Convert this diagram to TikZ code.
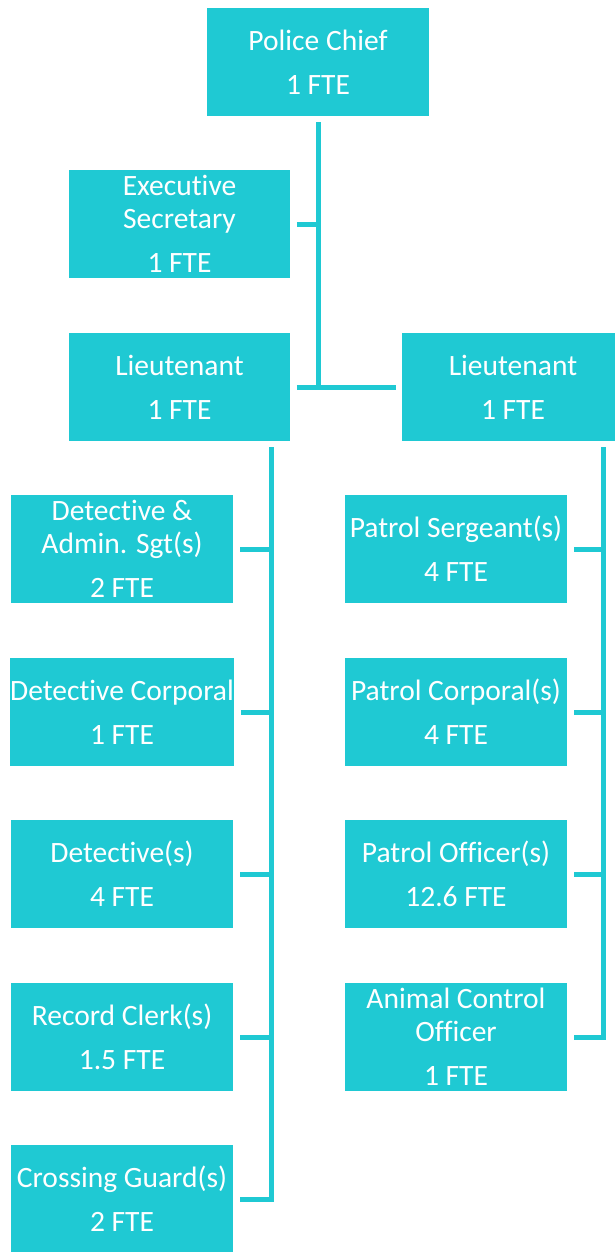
\documentclass[tikz,border=0pt]{standalone}
\usepackage{fontspec}
\setmainfont{Carlito}[Ligatures=NoCommon]
\definecolor{cteal}{HTML}{1FC9D3}
\tikzset{
  post/.style={fill=cteal, text=white, align=center, inner sep=0pt,
    minimum width=4.44cm, minimum height=2.16cm,
    font=\fontsize{16.8pt}{18.8pt}\selectfont},
  link/.style={draw=cteal, line width=0.1cm},
}
\begin{document}
\begin{tikzpicture}[x=0.02cm, y=-0.02cm]
  \useasboundingbox (0,0) rectangle (615,1252);
  % top of the chart
  \node[post] (chief) at (318,62) {Police Chief\\[0.22cm]1 FTE};
  \node[post] (sec) at (179.5,224) {Executive\\Secretary\\[0.22cm]1 FTE};
  \node[post] (ltl) at (179.5,387) {Lieutenant\\[0.22cm]1 FTE};
  \node[post] (ltr) at (513,387) {Lieutenant\\[0.22cm]1 FTE};
  % left column
  \node[post] (dsgt) at (122,549) {Detective \&\\Admin. Sgt(s)\\[0.22cm]2 FTE};
  \node[post] (dcpl) at (122,712) {Detective Corporal\\[0.22cm]1 FTE};
  \node[post] (det) at (122,874) {Detective(s)\\[0.22cm]4 FTE};
  \node[post] (clerk) at (122,1037) {Record Clerk(s)\\[0.22cm]1.5 FTE};
  \node[post] (guard) at (122,1199) {Crossing Guard(s)\\[0.22cm]2 FTE};
  % right column
  \node[post] (psgt) at (456,549) {Patrol Sergeant(s)\\[0.22cm]4 FTE};
  \node[post] (pcpl) at (456,712) {Patrol Corporal(s)\\[0.22cm]4 FTE};
  \node[post] (poff) at (456,874) {Patrol Officer(s)\\[0.22cm]12.6 FTE};
  \node[post] (aco) at (456,1037) {Animal Control\\Officer\\[0.22cm]1 FTE};

  % connectors
  \coordinate (hub) at (chief.south |- ltl.east);
  \coordinate (ltop) at (271,447);
  \coordinate (rtop) at (603,447);
  \draw[link] ([yshift=-0.12cm]chief.south) -- (hub);
  \draw[link] ([xshift=0.12cm]ltl.east) -- ([xshift=-0.12cm]ltr.west);
  \draw[link] ([xshift=0.12cm]sec.east) -- (sec.east -| hub);
  \draw[link] (ltop) |- ([xshift=0.14cm]guard.east);
  \draw[link] (rtop) |- ([xshift=0.14cm]aco.east);
  \foreach \n in {dsgt,dcpl,det,clerk}
    \draw[link] ([xshift=0.14cm]\n.east) -- (\n.east -| ltop);
  \foreach \n in {psgt,pcpl,poff}
    \draw[link] ([xshift=0.14cm]\n.east) -- (\n.east -| rtop);
\end{tikzpicture}
\end{document}
